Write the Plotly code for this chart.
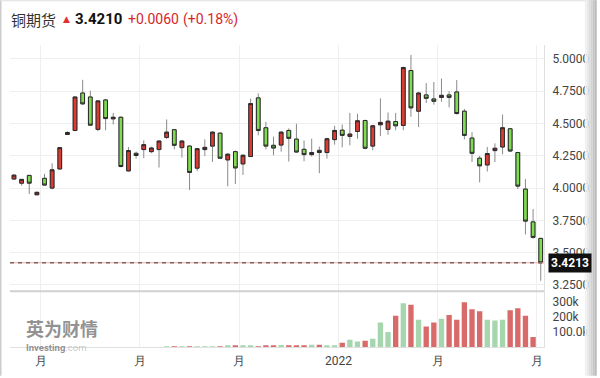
import plotly.graph_objects as go

# ---------------- data (weekly copper futures) ----------------
week_index = list(range(70))

opens = [4.070, 4.038, 4.098, 3.948, 4.075, 4.000, 4.148, 4.415, 4.446, 4.736,
         4.705, 4.454, 4.682, 4.536, 4.548, 4.133, 4.269, 4.298, 4.282, 4.298,
         4.392, 4.452, 4.313, 4.325, 4.154, 4.298, 4.325, 4.425, 4.218, 4.282,
         4.187, 4.244, 4.698, 4.467, 4.331, 4.333, 4.446, 4.379, 4.300, 4.259,
         4.292, 4.275, 4.375, 4.448, 4.400, 4.438, 4.523, 4.325, 4.490, 4.454,
         4.515, 4.485, 4.910, 4.595, 4.721, 4.690, 4.702, 4.721, 4.744, 4.595,
         4.387, 4.231, 4.179, 4.290, 4.318, 4.459, 4.275, 3.992, 3.738, 3.610]
highs = [4.105, 4.070, 4.100, 3.970, 4.110, 4.192, 4.318, 4.440, 4.710, 4.838,
         4.754, 4.680, 4.690, 4.582, 4.555, 4.318, 4.282, 4.369, 4.320, 4.370,
         4.531, 4.455, 4.370, 4.330, 4.310, 4.377, 4.440, 4.430, 4.270, 4.290,
         4.260, 4.692, 4.733, 4.513, 4.398, 4.440, 4.462, 4.498, 4.369, 4.382,
         4.321, 4.390, 4.482, 4.492, 4.582, 4.575, 4.530, 4.490, 4.695, 4.585,
         4.582, 4.940, 5.031, 4.745, 4.813, 4.821, 4.848, 4.749, 4.836, 4.613,
         4.433, 4.249, 4.318, 4.346, 4.569, 4.465, 4.280, 4.069, 3.838, 3.615]
lows = [4.065, 4.018, 3.954, 3.945, 4.020, 3.990, 4.145, 4.410, 4.440, 4.645,
        4.485, 4.440, 4.448, 4.492, 4.160, 4.128, 4.228, 4.231, 4.270, 4.159,
        4.380, 4.300, 4.236, 3.985, 4.131, 4.248, 4.202, 4.226, 4.013, 4.031,
        4.102, 4.240, 4.408, 4.300, 4.254, 4.282, 4.205, 4.275, 4.208, 4.244,
        4.115, 4.228, 4.336, 4.315, 4.331, 4.382, 4.300, 4.292, 4.402, 4.413,
        4.448, 4.448, 4.552, 4.472, 4.659, 4.646, 4.669, 4.625, 4.570, 4.377,
        4.202, 4.044, 4.128, 4.202, 4.262, 4.280, 3.992, 3.641, 3.608, 3.282]
closes = [4.100, 4.067, 4.038, 3.967, 4.023, 4.141, 4.313, 4.430, 4.705, 4.652,
          4.487, 4.675, 4.538, 4.548, 4.167, 4.290, 4.252, 4.336, 4.310, 4.364,
          4.433, 4.331, 4.364, 4.121, 4.305, 4.315, 4.433, 4.231, 4.262, 4.156,
          4.254, 4.654, 4.446, 4.325, 4.310, 4.433, 4.385, 4.279, 4.259, 4.275,
          4.275, 4.382, 4.446, 4.408, 4.418, 4.521, 4.308, 4.482, 4.508, 4.518,
          4.482, 4.933, 4.621, 4.736, 4.695, 4.672, 4.718, 4.702, 4.577, 4.408,
          4.269, 4.172, 4.267, 4.308, 4.467, 4.287, 4.015, 3.744, 3.618, 3.4213]
volumes = [0, 0, 0, 0, 0, 0, 0, 0, 0, 0,
           0, 0, 0, 0, 0, 0, 0, 0, 0, 0,
           3000, 3000, 3000, 3000, 3000, 3000, 4000, 4000, 5000, 8000,
           11000, 12000, 4000, 6000, 6000, 14000, 10000, 6000, 11000, 15000,
           15000, 7000, 9000, 29000, 49000, 37000, 42000, 55000, 164000, 100000,
           209000, 293000, 284000, 182000, 137000, 164000, 189000, 215000, 182000, 300000,
           253000, 240000, 182000, 177000, 182000, 247000, 260000, 209000, 67000, 0]

tick_positions = [3.5, 16.5, 29.5, 42.5, 55.5, 68.5]
tick_labels = ["月", "月", "月", "2022", "月", "月"]
price_ticks = [3.25, 3.5, 3.75, 4.0, 4.25, 4.5, 4.75, 5.0]
vol_ticks = [100000, 200000, 300000]
vol_tick_labels = ["100.0k", "200k", "300k"]
last_price = 3.4213
title_name = "铜期货"
title_price = "3.4210"
title_change = "+0.0060"
title_pct = "(+0.18%)"

# ---------------- styling ----------------
UP_FILL = "#dd3a32"
DOWN_FILL = "#7fdb52"
VOL_UP = "#a6d6ae"
VOL_DOWN = "#d86a6a"

W, H = 600, 378
ML, MR, MT, MB = 10, 53, 45, 29
PW = W - ML - MR
PH = H - MT - MB


def px_x(p):
    return (p - ML) / PW


def px_y(p):
    return (H - MB - p) / PH


vol_frac = 56 / PH

body_hi = [max(o, c) for o, c in zip(opens, closes)]
body_lo = [min(o, c) for o, c in zip(opens, closes)]
vol_colors = [VOL_UP if c > o else VOL_DOWN for o, c in zip(opens, closes)]

fig = go.Figure()

# wicks (grey)
fig.add_trace(go.Candlestick(
    x=week_index, open=opens, high=highs, low=lows, close=closes,
    increasing=dict(fillcolor=UP_FILL, line=dict(color="#8a8a8a", width=1)),
    decreasing=dict(fillcolor=DOWN_FILL, line=dict(color="#8a8a8a", width=1)),
    whiskerwidth=0, xaxis="x", yaxis="y", hoverinfo="skip", showlegend=False,
))
# bodies with dark outline
fig.add_trace(go.Candlestick(
    x=week_index, open=opens, high=body_hi, low=body_lo, close=closes,
    increasing=dict(fillcolor=UP_FILL, line=dict(color="#2a2a2a", width=1)),
    decreasing=dict(fillcolor=DOWN_FILL, line=dict(color="#2a2a2a", width=1)),
    whiskerwidth=0, xaxis="x", yaxis="y", hoverinfo="skip", showlegend=False,
))

fig.add_trace(go.Bar(
    x=week_index, y=volumes, marker=dict(color=vol_colors, line=dict(width=0)),
    xaxis="x2", yaxis="y2", hoverinfo="skip", showlegend=False,
))

tickfont = dict(family="Roboto, Arial, sans-serif", size=12, color="#444")

fig.update_layout(
    width=W, height=H,
    margin=dict(l=ML, r=MR, t=MT, b=MB, pad=0),
    paper_bgcolor="white", plot_bgcolor="white",
    bargap=0.3,
    xaxis=dict(domain=[0, 1], range=[-0.52, 69.43], anchor="y",
               tickvals=tick_positions, showticklabels=False,
               showgrid=True, gridcolor="#efefef", zeroline=False,
               rangeslider=dict(visible=False), fixedrange=True),
    yaxis=dict(domain=[vol_frac, 1], range=[3.2, 5.1077], side="right",
               tickvals=price_ticks, ticktext=["%.4f" % v for v in price_ticks],
               showgrid=True, gridcolor="#efefef", zeroline=False,
               showline=True, linecolor="#e0e0e0", linewidth=1,
               ticks="outside", ticklen=5, tickcolor="rgba(0,0,0,0)",
               tickfont=tickfont, anchor="x"),
    xaxis2=dict(domain=[0, 1], range=[-0.52, 69.43], anchor="y2", matches="x",
                tickvals=tick_positions, ticktext=tick_labels,
                showgrid=True, gridcolor="#efefef", zeroline=False,
                showline=True, linecolor="#e0e0e0",
                ticks="outside", ticklen=3, tickcolor="rgba(0,0,0,0)",
                tickfont=tickfont),
    yaxis2=dict(domain=[0, vol_frac], range=[0, 373000], side="right",
                tickvals=vol_ticks, ticktext=vol_tick_labels,
                showgrid=False, zeroline=False,
                showline=True, linecolor="#e0e0e0",
                ticks="outside", ticklen=5, tickcolor="rgba(0,0,0,0)",
                tickfont=tickfont, anchor="x2"),
)

shapes = [
    # separator between panels
    dict(type="line", xref="paper", yref="paper", x0=0, x1=1, y0=vol_frac, y1=vol_frac,
         line=dict(color="#d0d0d0", width=2)),
    # last price line
    dict(type="line", xref="paper", yref="y", x0=0, x1=1, y0=last_price, y1=last_price,
         line=dict(color="#f2a6a6", width=1)),
    dict(type="line", xref="paper", yref="y", x0=0, x1=1, y0=last_price, y1=last_price,
         line=dict(color="#7c6666", width=1.5, dash="4px,4px")),
    # outer frame left / top
    dict(type="line", xref="paper", yref="paper", x0=px_x(0.7), x1=px_x(0.7),
         y0=px_y(0), y1=px_y(H), line=dict(color="#cccccc", width=1.5)),
    dict(type="line", xref="paper", yref="paper", x0=px_x(0), x1=px_x(W),
         y0=px_y(0.5), y1=px_y(0.5), line=dict(color="#dddddd", width=1)),
]
# right-edge shadow
shade = ["#f2f2f2", "#e8e8e8", "#dddddd", "#d2d2d2", "#c6c6c6", "#bababa"]
for i, col in enumerate(shade):
    x0 = 588 + i * 2
    shapes.append(dict(type="rect", xref="paper", yref="paper",
                       x0=px_x(x0), x1=px_x(x0 + 2), y0=px_y(H), y1=px_y(0),
                       fillcolor=col, line=dict(width=0), layer="above"))
fig.update_layout(shapes=shapes)

ann = []
cy = px_y(19)
ann.append(dict(text=title_name, xref="paper", yref="paper", x=px_x(9), y=cy,
                xanchor="left", yanchor="middle", showarrow=False,
                font=dict(family="Noto Sans CJK SC", size=15, color="#333")))
ann.append(dict(text="▲", xref="paper", yref="paper", x=px_x(61), y=cy,
                xanchor="left", yanchor="middle", showarrow=False,
                font=dict(family="DejaVu Sans", size=9, color="#e53030")))
ann.append(dict(text="<b>" + title_price + "</b>", xref="paper", yref="paper", x=px_x(73), y=cy,
                xanchor="left", yanchor="middle", showarrow=False,
                font=dict(family="Roboto, Arial", size=15, color="#111")))
ann.append(dict(text=title_change, xref="paper", yref="paper", x=px_x(127), y=cy,
                xanchor="left", yanchor="middle", showarrow=False,
                font=dict(family="Roboto, Arial", size=14, color="#d6262a")))
ann.append(dict(text=title_pct, xref="paper", yref="paper", x=px_x(182), y=cy,
                xanchor="left", yanchor="middle", showarrow=False,
                font=dict(family="Roboto, Arial", size=14, color="#d6262a")))
# last price tag
ann.append(dict(text="<b>%.4f</b>" % last_price, xref="paper", yref="y", x=1, y=last_price,
                xanchor="left", yanchor="middle", xshift=4, showarrow=False,
                bgcolor="#111", borderpad=2,
                font=dict(family="Roboto, Arial", size=12, color="white")))
# watermark
ann.append(dict(text="<b>英为财情</b>", xref="paper", yref="paper", x=px_x(24), y=px_y(330),
                xanchor="left", yanchor="middle", showarrow=False,
                font=dict(family="Noto Sans CJK SC", size=18, color="rgba(110,110,110,0.75)")))
ann.append(dict(text="<b>Investing</b><span style='color:rgba(150,150,150,0.7)'>.com</span>",
                xref="paper", yref="paper", x=px_x(24), y=px_y(349),
                xanchor="left", yanchor="middle", showarrow=False,
                font=dict(family="Roboto, Arial", size=9.5, color="rgba(110,110,110,0.75)")))
fig.update_layout(annotations=ann)

fig.write_html("out.html", config={"displayModeBar": False},
               post_script="document.body.style.margin='0';document.body.style.overflow='hidden';")
